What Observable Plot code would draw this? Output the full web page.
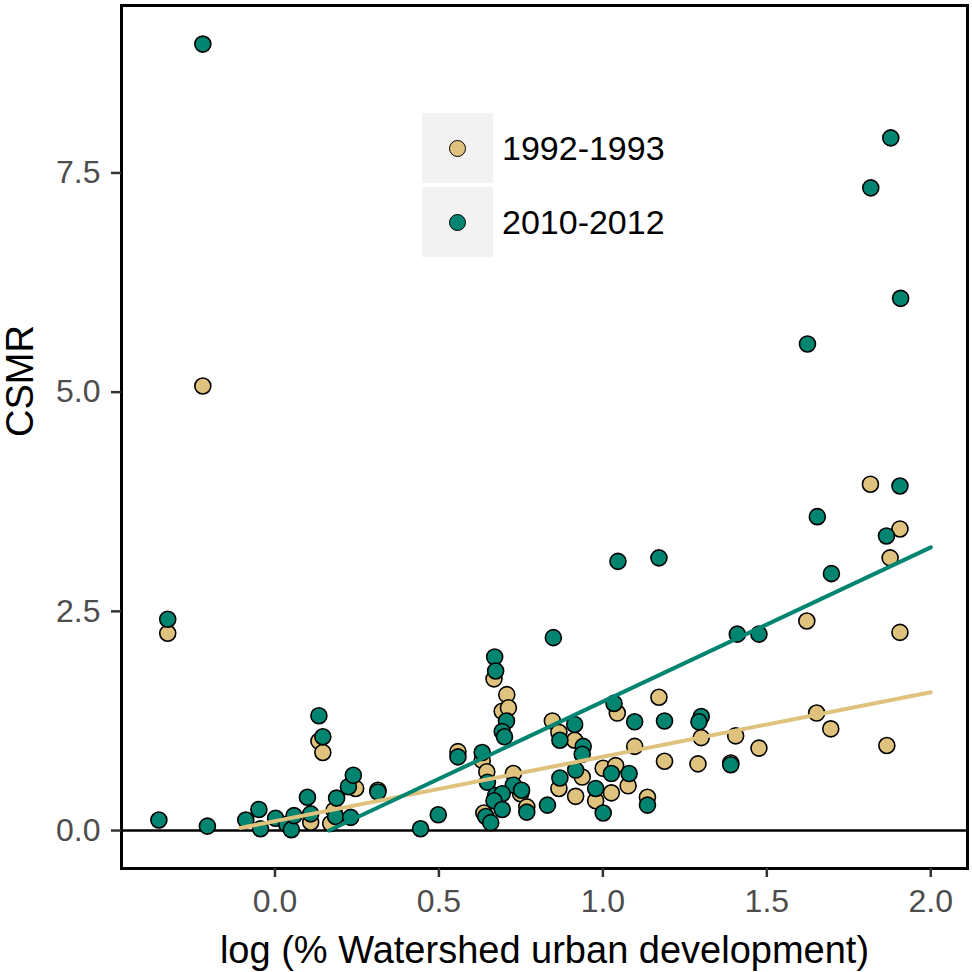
<!DOCTYPE html>
<html>
<head>
<meta charset="utf-8">
<script src="https://cdn.jsdelivr.net/npm/d3@7"></script>
<script src="https://cdn.jsdelivr.net/npm/@observablehq/plot@0.6"></script>
<style>
  body { margin: 0; background: #fff; }
  #wrap { position: relative; width: 972px; height: 972px; font-family: "Liberation Sans", Arial, sans-serif; }
  #legend { position: absolute; left: 422px; top: 113px; }
  .row { display: flex; align-items: center; height: 70px; margin-bottom: 4px; }
  .key { width: 71px; height: 70px; background: #f2f2f2; display: flex; align-items: center; justify-content: center; }
  .sw { width: 15px; height: 15px; border-radius: 50%; border: 1.6px solid #000; }
  .lab { margin-left: 9px; font-size: 34px; color: #000; line-height: 1; }
</style>
</head>
<body>
<div id="wrap"></div>
<script>
// ---- data ----
const periods = ["1992-1993", "2010-2012"];
const periodColors = ["#dfc27d", "#018571"];

const x1992 = [-0.22, -0.327, 0.109, 0.134, 0.146, 0.18, 0.17, 0.246, 0.314, 0.558, 0.632, 0.646, 0.668, 0.707, 0.693, 0.712, 0.727, 0.749, 0.637, 0.768, 0.846, 0.866, 0.914, 0.937, 0.866, 0.917, 0.978, 1.001, 1.039, 1.026, 1.077, 1.044, 1.097, 1.171, 1.188, 1.136, 1.30, 1.29, 1.39, 1.405, 1.476, 1.622, 1.652, 1.695, 1.816, 1.866, 1.876, 1.906, 1.906];
const y1992 = [5.07, 2.25, 0.095, 1.02, 0.89, 0.23, 0.08, 0.48, 0.46, 0.90, 0.80, 0.67, 1.73, 1.55, 1.36, 1.40, 0.65, 0.42, 0.20, 0.27, 1.25, 1.12, 1.03, 0.61, 0.48, 0.39, 0.34, 0.71, 0.74, 0.43, 0.51, 1.34, 0.96, 1.52, 0.79, 0.38, 1.06, 0.76, 0.77, 1.08, 0.94, 2.39, 1.34, 1.16, 3.95, 0.97, 3.11, 3.44, 2.26];

const x2010 = [-0.22, -0.327, -0.354, -0.206, -0.089, -0.049, -0.044, 0.002, 0.036, 0.05, 0.058, 0.099, 0.109, 0.134, 0.146, 0.188, 0.185, 0.231, 0.224, 0.239, 0.314, 0.444, 0.498, 0.558, 0.632, 0.648, 0.670, 0.673, 0.706, 0.693, 0.70, 0.727, 0.752, 0.673, 0.693, 0.668, 0.693, 0.643, 0.658, 0.768, 0.831, 0.849, 0.869, 0.914, 0.940, 0.937, 0.917, 0.869, 0.978, 1.001, 1.026, 1.080, 1.034, 1.046, 1.097, 1.171, 1.188, 1.136, 1.30, 1.293, 1.39, 1.41, 1.476, 1.624, 1.654, 1.697, 1.817, 1.865, 1.878, 1.906, 1.908];
const y2010 = [8.97, 2.41, 0.12, 0.05, 0.12, 0.24, 0.02, 0.14, 0.07, 0.01, 0.17, 0.38, 0.19, 1.31, 1.07, 0.37, 0.16, 0.15, 0.50, 0.63, 0.44, 0.02, 0.18, 0.84, 0.89, 0.55, 1.98, 1.82, 1.25, 1.13, 1.07, 0.52, 0.46, 0.40, 0.42, 0.34, 0.24, 0.16, 0.09, 0.21, 0.29, 2.20, 1.03, 1.21, 0.96, 0.87, 0.69, 0.60, 0.48, 0.20, 0.65, 0.65, 1.45, 3.07, 1.24, 3.11, 1.25, 0.29, 1.30, 1.24, 0.75, 2.24, 2.24, 5.55, 3.58, 2.93, 7.33, 3.36, 7.90, 3.93, 6.07];

// fitted trend lines (end points)
const fitX1992 = [-0.105, 2.0];
const fitY1992 = [0.03, 1.577];
const fitX2010 = [0.165, 2.0];
const fitY2010 = [0.0, 3.23];

const xTicks = [0, 0.5, 1, 1.5, 2];
const yTicks = [0, 2.5, 5, 7.5];
const xTitle = "log (% Watershed urban development)";
const yTitle = "CSMR";

// ---- build tables ----
const points = [
  ...x1992.map((x, i) => ({x, y: y1992[i], period: periods[0]})),
  ...x2010.map((x, i) => ({x, y: y2010[i], period: periods[1]}))
];
const fits = [
  ...fitX1992.map((x, i) => ({x, y: fitY1992[i], period: periods[0]})),
  ...fitX2010.map((x, i) => ({x, y: fitY2010[i], period: periods[1]}))
];

const font = "Liberation Sans, Arial, sans-serif";

const chart = Plot.plot({
  width: 972,
  height: 972,
  marginLeft: 121,
  marginRight: 5,
  marginTop: 5,
  marginBottom: 104,
  style: {fontFamily: font, background: "#fff", overflow: "visible"},
  x: {domain: [-0.468, 2.112]},
  y: {domain: [-0.433, 9.41]},
  color: {domain: periods, range: periodColors},
  marks: [
    Plot.ruleY([0], {stroke: "#000", strokeWidth: 2.5}),
    Plot.dot(points, {x: "x", y: "y", fill: "period", stroke: "#000", strokeWidth: 1.6, r: 8}),
    Plot.line(fits, {x: "x", y: "y", z: "period", stroke: "period", strokeWidth: 4}),
    Plot.frame({stroke: "#000", strokeWidth: 3}),
    Plot.axisX(xTicks, {tickSize: 9, tickPadding: 12, fontSize: 32, tickFormat: d3.format(".1f"), stroke: "#333", strokeWidth: 2.5, fill: "#4d4d4d", label: null}),
    Plot.axisY(yTicks, {tickSize: 10, tickPadding: 11, fontSize: 32, tickFormat: d3.format(".1f"), stroke: "#333", strokeWidth: 2.5, fill: "#4d4d4d", label: null}),
    Plot.text([xTitle], {text: d => d, frameAnchor: "bottom", lineAnchor: "bottom", dy: 94, fontSize: 38, fill: "#000"}),
    Plot.text([yTitle], {text: d => d, frameAnchor: "left", lineAnchor: "bottom", rotate: -90, dx: -89, fontSize: 38, fill: "#000"})
  ]
});

const wrap = document.getElementById("wrap");
wrap.appendChild(chart);

// legend inside the panel
const legend = document.createElement("div");
legend.id = "legend";
periods.forEach((p, i) => {
  const row = document.createElement("div");
  row.className = "row";
  const key = document.createElement("div");
  key.className = "key";
  const sw = document.createElement("div");
  sw.className = "sw";
  sw.style.background = periodColors[i];
  key.appendChild(sw);
  const lab = document.createElement("div");
  lab.className = "lab";
  lab.textContent = p;
  row.appendChild(key);
  row.appendChild(lab);
  legend.appendChild(row);
});
wrap.appendChild(legend);
</script>
</body>
</html>
